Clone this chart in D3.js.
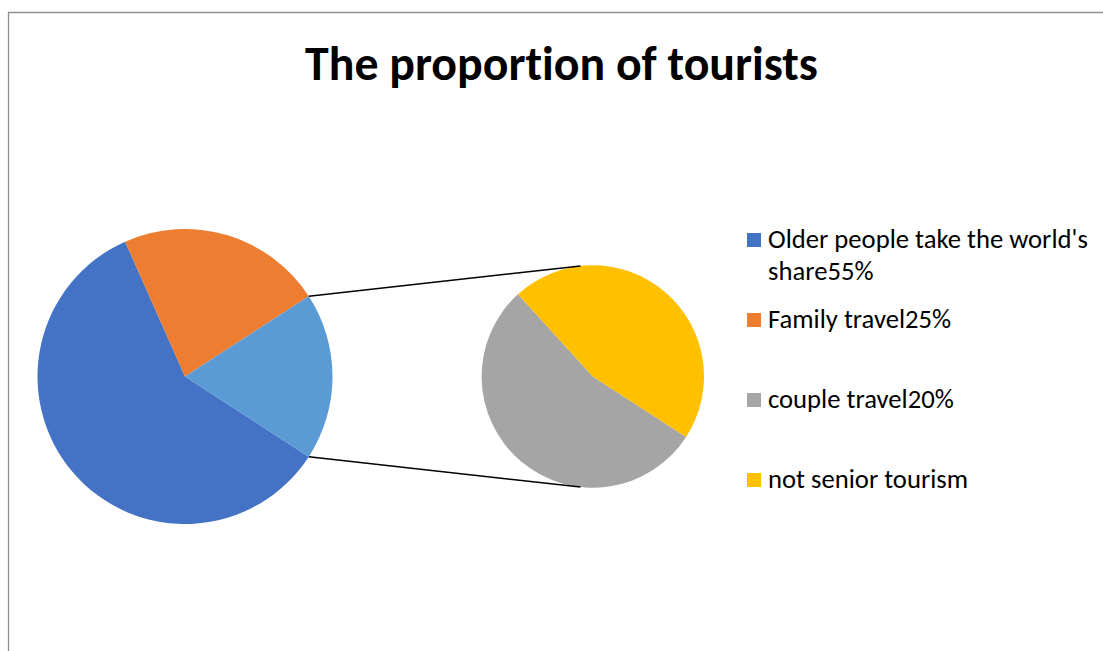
<!DOCTYPE html>
<html>
<head>
<meta charset="utf-8">
<script src="https://cdn.jsdelivr.net/npm/d3@7"></script>
<style>
  html, body { margin: 0; padding: 0; background: #fff; }
  svg { display: block; }
  text { font-variant-ligatures: none; font-feature-settings: "liga" 0, "clig" 0; }
</style>
</head>
<body>
<svg id="chart" width="1103" height="651"></svg>
<script>
// Tourist segments: the first two stay in the main pie, the rest are split out
const categories = ["Older people take the world's share55%", "Family travel25%", "couple travel20%", "not senior tourism"];
const values = [59.2, 22.5, 9.9, 8.4];
const colors = ["#4472C4", "#ED7D31", "#A5A5A5", "#FFC000"];
const mainCount = 2;              // number of segments drawn in the main pie
const otherColor = "#5B9BD5";     // colour of the aggregated slice
const title = "The proportion of tourists";

const W = 1103, H = 651;
const svg = d3.select("#chart");
const FONT = "Carlito, Calibri, Lato, 'Open Sans', sans-serif";

// chart frame (top and left edges visible)
svg.append("path")
  .attr("d", `M8.5,${H} V12.5 H${W}`)
  .attr("fill", "none")
  .attr("stroke", "#8f8f8f")
  .attr("stroke-width", 1.3);

// title, sized to span its box
const titleText = svg.append("text")
  .attr("x", 561.5).attr("y", 80)
  .attr("text-anchor", "middle")
  .attr("font-family", FONT)
  .attr("font-weight", "bold")
  .attr("font-size", 48)
  .attr("fill", "#000")
  .text(title);
const tw = titleText.node().getComputedTextLength();
titleText.attr("font-size", 48 * 513 / tw);

// data for both pies
const mainData = categories.slice(0, mainCount).map((c, i) => ({ name: c, value: values[i], color: colors[i] }));
const subData = categories.slice(mainCount).map((c, i) => ({ name: c, value: values[mainCount + i], color: colors[mainCount + i] }));
const otherValue = d3.sum(subData, d => d.value);
mainData.push({ name: "Other", value: otherValue, color: otherColor });
const total = d3.sum(mainData, d => d.value);

// the aggregated slice is centred on the 3 o'clock direction
const a0 = Math.PI / 2 + Math.PI * otherValue / total;

const mainC = { x: 185, y: 376.5, r: 147.5 };
const subC = { x: 592.8, y: 376.5, r: 111.2 };

const pieGen = d3.pie().sort(null).value(d => d.value).startAngle(a0).endAngle(a0 + 2 * Math.PI);

function drawPie(c, data) {
  const arc = d3.arc().innerRadius(0).outerRadius(c.r);
  const g = svg.append("g").attr("transform", `translate(${c.x},${c.y})`);
  const arcs = pieGen(data);
  g.selectAll("path").data(arcs).join("path")
    .attr("d", arc)
    .attr("fill", d => d.data.color);
  return arcs;
}

const mainArcs = drawPie(mainC, mainData);
drawPie(subC, subData);

// connector lines from the aggregated slice edges, tangent to the secondary pie
const otherArc = mainArcs[mainArcs.length - 1];
function onCircle(c, ang) {
  return [c.x + c.r * Math.sin(ang), c.y - c.r * Math.cos(ang)];
}
function tangent(p, c, upper) {
  const dx = p[0] - c.x, dy = p[1] - c.y;
  const d = Math.hypot(dx, dy);
  const phi = Math.atan2(dy, dx);
  const al = Math.acos(c.r / d);
  const t1 = [c.x + c.r * Math.cos(phi + al), c.y + c.r * Math.sin(phi + al)];
  const t2 = [c.x + c.r * Math.cos(phi - al), c.y + c.r * Math.sin(phi - al)];
  return upper ? (t1[1] < t2[1] ? t1 : t2) : (t1[1] > t2[1] ? t1 : t2);
}
const pTop = onCircle(mainC, otherArc.startAngle);
const pBot = onCircle(mainC, otherArc.endAngle);
const lines = [[pTop, tangent(pTop, subC, true)], [pBot, tangent(pBot, subC, false)]];
svg.selectAll("line.connector").data(lines).join("line")
  .attr("class", "connector")
  .attr("x1", d => d[0][0]).attr("y1", d => d[0][1])
  .attr("x2", d => d[1][0]).attr("y2", d => d[1][1])
  .attr("stroke", "#000")
  .attr("stroke-width", 1.5);

// legend
const legendItems = categories.map((c, i) => ({ name: c, color: colors[i] }));
const legX = 747, textX = 768, firstBase = 248, rowStep = 80, lineStep = 32, maxW = 330;

// font size fitted so the longest wrapped line has the intended width
const probe = svg.append("text").attr("font-family", FONT).attr("font-size", 100)
  .text("Older people take the world's");
const legendSize = 100 * 320 / probe.node().getComputedTextLength();
probe.remove();

const lg = svg.append("g");
legendItems.forEach((item, i) => {
  const base = firstBase + i * rowStep;
  lg.append("rect")
    .attr("x", legX).attr("y", base - 15)
    .attr("width", 14).attr("height", 14)
    .attr("fill", item.color);
  const t = lg.append("text")
    .attr("font-family", FONT)
    .attr("font-size", legendSize)
    .attr("fill", "#000");
  // simple word wrap
  const words = item.name.split(" ");
  let line = [], lineNo = 0;
  let ts = t.append("tspan").attr("x", textX).attr("y", base);
  words.forEach(w => {
    line.push(w);
    ts.text(line.join(" "));
    if (ts.node().getComputedTextLength() > maxW && line.length > 1) {
      line.pop();
      ts.text(line.join(" "));
      line = [w];
      lineNo++;
      ts = t.append("tspan").attr("x", textX).attr("y", base + lineNo * lineStep).text(w);
    }
  });
});
</script>
</body>
</html>
